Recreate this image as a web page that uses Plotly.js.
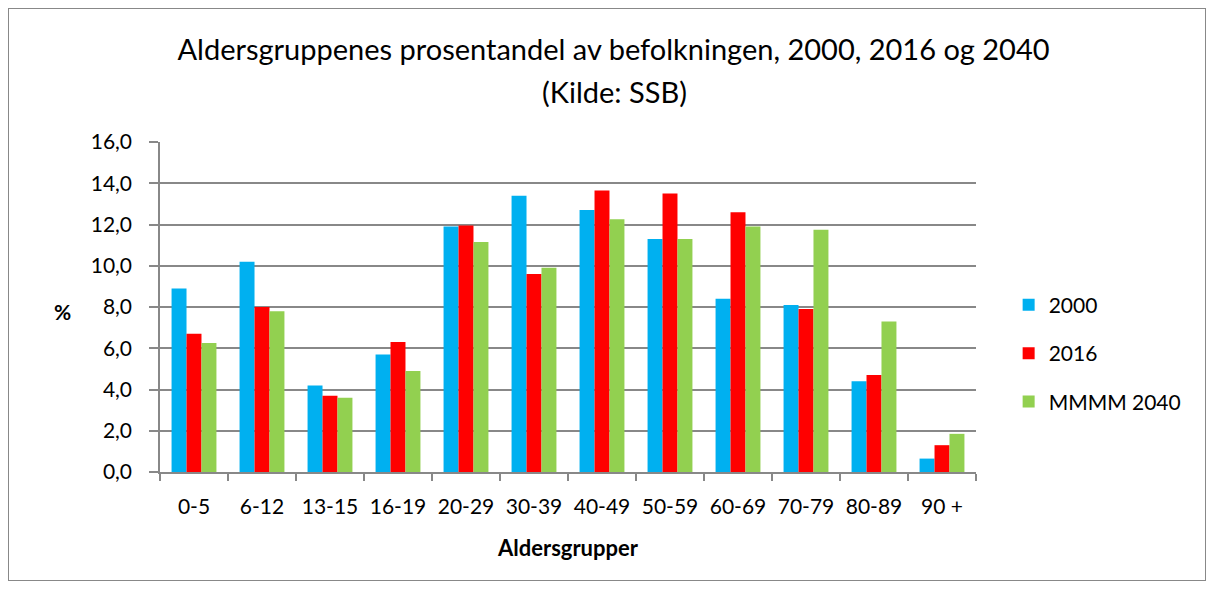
<!DOCTYPE html>
<html>
<head>
<meta charset="utf-8">
<script src="https://cdn.plot.ly/plotly-3.0.1.min.js"></script>
<style>
  html, body { margin: 0; padding: 0; background: #fff; }
  #wrap { position: relative; width: 1215px; height: 589px; }
  #chart { position: absolute; left: 0; top: 0; width: 1215px; height: 589px; }
  #frame { position: absolute; left: 8px; top: 8px; width: 1196px; height: 571px; border: 1px solid #888; pointer-events: none; }
</style>
</head>
<body>
<div id="wrap">
  <div id="chart"></div>
  <div id="frame"></div>
</div>
<script>
const categories = ["0-5", "6-12", "13-15", "16-19", "20-29", "30-39", "40-49", "50-59", "60-69", "70-79", "80-89", "90 +"];
const values2000 = [8.9, 10.2, 4.2, 5.7, 11.9, 13.4, 12.7, 11.3, 8.4, 8.1, 4.4, 0.65];
const values2016 = [6.7, 8.0, 3.7, 6.3, 11.95, 9.6, 13.65, 13.5, 12.6, 7.9, 4.7, 1.3];
const values2040 = [6.25, 7.8, 3.6, 4.9, 11.15, 9.9, 12.25, 11.3, 11.9, 11.75, 7.3, 1.85];
const seriesNames = ["2000", "2016", "MMMM 2040"];
const titleLine1 = "Aldersgruppenes prosentandel av befolkningen, 2000, 2016 og 2040";
const titleLine2 = "(Kilde: SSB)";

const FONT = "Lato, 'Open Sans', sans-serif";
const colors = ["#00B0F0", "#FF0000", "#92D050"];
const allValues = [values2000, values2016, values2040];

const data = allValues.map((vals, i) => ({
  type: "bar",
  name: seriesNames[i],
  x: categories,
  y: vals,
  marker: { color: colors[i] },
  legendgroup: "g" + i,
  hoverinfo: "x+y+name"
}));

const layout = {
  width: 1215,
  height: 589,
  margin: { l: 160, r: 239, t: 142, b: 117 },
  paper_bgcolor: "#fff",
  plot_bgcolor: "#fff",
  separators: ", ",
  barmode: "group",
  bargap: 0.34,
  bargroupgap: 0,
  font: { family: FONT, color: "#000", size: 21 },
  title: {
    text: titleLine1,
    font: { family: FONT, size: 29, color: "#000" },
    x: 0.505, xanchor: "center",
    y: 1 - 50 / 589, yanchor: "middle"
  },
  xaxis: {
    type: "category",
    tickson: "boundaries",
    ticks: "outside",
    ticklen: 7,
    tickcolor: "#888",
    tickwidth: 1.5,
    ticklabelstandoff: 15,
    showline: true,
    linecolor: "#888",
    linewidth: 1.5,
    showgrid: false,
    tickfont: { family: FONT, size: 21, color: "#000" },
    title: { text: "<b>Aldersgrupper</b>", font: { family: FONT, size: 22, color: "#000" }, standoff: 24 }
  },
  yaxis: {
    range: [0, 16],
    dtick: 2,
    tick0: 0,
    tickformat: ".1f",
    ticks: "outside",
    ticklen: 9,
    tickcolor: "#888",
    tickwidth: 1.5,
    ticklabelstandoff: 13,
    showline: true,
    linecolor: "#888",
    linewidth: 1.5,
    showgrid: true,
    gridcolor: "#888",
    gridwidth: 1.5,
    zeroline: false,
    tickfont: { family: FONT, size: 21, color: "#000" },
    fixedrange: true
  },
  legend: {
    x: 1.04, xanchor: "left",
    y: 0.36, yanchor: "middle",
    font: { family: FONT, size: 21, color: "#000" },
    traceorder: "grouped",
    tracegroupgap: 18,
    itemwidth: 30,
    bgcolor: "rgba(0,0,0,0)"
  },
  annotations: [
    {
      text: titleLine2,
      xref: "paper", yref: "paper",
      x: (614 - 160) / 816, y: (472 - 92) / 330,
      xanchor: "center", yanchor: "middle",
      showarrow: false,
      font: { family: FONT, size: 29, color: "#000" }
    },
    {
      text: "<b>%</b>",
      xref: "paper", yref: "paper",
      x: -0.12, y: 0.485,
      xanchor: "center", yanchor: "middle",
      showarrow: false,
      font: { family: FONT, size: 21, color: "#000" }
    }
  ]
};

Plotly.newPlot("chart", data, layout, { displayModeBar: false, staticPlot: false });
</script>
</body>
</html>
